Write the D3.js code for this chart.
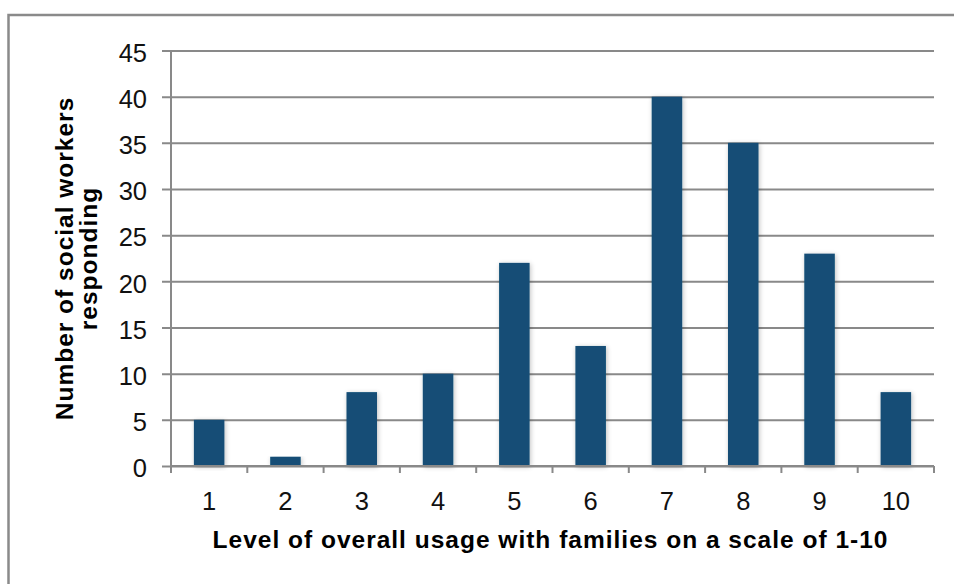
<!DOCTYPE html>
<html><head><meta charset="utf-8">
<script src="https://cdn.jsdelivr.net/npm/d3@7"></script>
<style>
html,body{margin:0;padding:0;background:#fff;}
svg{display:block;font-family:"Liberation Sans",Arial,sans-serif;}
</style></head>
<body>
<svg id="chart" width="954" height="584"></svg>
<script>
const categories = ["1","2","3","4","5","6","7","8","9","10"];
const values = [5,1,8,10,22,13,40,35,23,8];
const yTickValues = [0,5,10,15,20,25,30,35,40,45];
const xTitle = "Level of overall usage with families on a scale of 1-10";
const yTitleLines = ["Number of social workers","responding"];

(function(){
const svg = d3.select("#chart");
const pLeft = 171, pRight = 934, pTop = 50.5, pBottom = 466;
const gridColor = "#898989";
const barColor = "#134e76";
const fontFam = '"Liberation Sans",Arial,sans-serif';

// outer frame
svg.append("path")
  .attr("d", `M8.5,${584+5} L8.5,15 L${954+5},15`)
  .attr("fill","none").attr("stroke","#8a8a8a").attr("stroke-width",2.5);

const x = d3.scaleBand().domain(categories).range([pLeft, pRight]).paddingInner(0.6).paddingOuter(0.3);
const y = d3.scaleLinear().domain([0,45]).range([pBottom, pTop]);

// shadow filter
const defs = svg.append("defs");
const f = defs.append("filter").attr("id","sh").attr("x","-30%").attr("y","-10%").attr("width","160%").attr("height","120%");
f.append("feGaussianBlur").attr("in","SourceAlpha").attr("stdDeviation",2.5).attr("result","b");
f.append("feOffset").attr("in","b").attr("dx",1).attr("dy",1).attr("result","o");
f.append("feComponentTransfer").attr("in","o").attr("result","o2")
  .append("feFuncA").attr("type","linear").attr("slope",0.25);
const m = f.append("feMerge");
m.append("feMergeNode").attr("in","o2");
m.append("feMergeNode").attr("in","SourceGraphic");

// y axis with gridlines
const yAxis = d3.axisLeft(y).tickValues(yTickValues).tickSize(pRight - 162).tickPadding(15);
const gy = svg.append("g").attr("transform", `translate(${pRight},0)`).call(yAxis);
gy.select(".domain").remove();
gy.selectAll(".tick line").attr("stroke", gridColor).attr("stroke-width",2);
gy.selectAll(".tick text").attr("font-size",25.5).attr("fill","#111")
  .attr("font-family",fontFam).attr("dy","0.42em");

// y axis line
svg.append("line").attr("x1",pLeft).attr("x2",pLeft).attr("y1",pTop).attr("y2",pBottom)
  .attr("stroke",gridColor).attr("stroke-width",2);

// bars
svg.append("g").selectAll("rect").data(values).join("rect")
  .attr("x",(d,i)=>x(categories[i]))
  .attr("y",d=>y(d))
  .attr("width",x.bandwidth())
  .attr("height",d=>y(0)-y(d))
  .attr("fill",barColor)
  .attr("filter","url(#sh)");

// x axis
const step = x.step();
const boundaries = categories.map(c => x(c) - step*x.paddingInner()/2).concat([x(categories[categories.length-1]) + x.bandwidth() + step*x.paddingInner()/2]);
const xAxis = d3.axisBottom(x).tickSize(0).tickPadding(25.5);
const gx = svg.append("g").attr("transform",`translate(0,${pBottom})`).call(xAxis);
gx.select(".domain").remove();
gx.selectAll(".tick text").attr("font-size",25.5).attr("fill","#111")
  .attr("font-family",fontFam);
svg.append("line").attr("x1",pLeft-1).attr("x2",pRight).attr("y1",pBottom).attr("y2",pBottom)
  .attr("stroke",gridColor).attr("stroke-width",2);
svg.append("g").selectAll("line").data(boundaries).join("line")
  .attr("x1",d=>d).attr("x2",d=>d).attr("y1",pBottom).attr("y2",pBottom+7)
  .attr("stroke",gridColor).attr("stroke-width",2);

// x title
svg.append("text").attr("x",(pLeft+pRight)/2 - 2).attr("y",547.5)
  .attr("text-anchor","middle").attr("font-weight","bold").attr("font-size",24.5)
  .attr("letter-spacing",1).attr("fill","#000").text(xTitle);

// y title
const yt = svg.append("text").attr("transform","translate(0,258.5) rotate(-90)")
  .attr("text-anchor","middle").attr("font-weight","bold").attr("font-size",24.5)
  .attr("letter-spacing",1).attr("fill","#000");
yt.selectAll("tspan").data(yTitleLines).join("tspan")
  .attr("x",0).attr("y",(d,i)=> 73 + i*24).text(d=>d);
})();
</script>
</body></html>
